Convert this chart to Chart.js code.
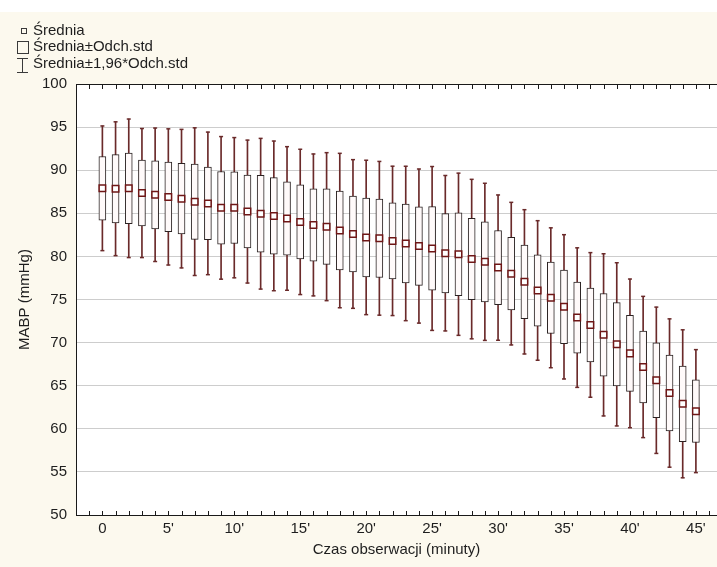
<!DOCTYPE html>
<html>
<head>
<meta charset="utf-8">
<script src="https://cdn.jsdelivr.net/npm/chart.js@4"></script>
<style>
  html, body { margin: 0; padding: 0; background: #ffffff; }
  #wrap { width: 717px; height: 567px; }
</style>
</head>
<body>
<div id="wrap"><canvas id="c" width="717" height="567"></canvas></div>
<script>
// Observation minute for each measurement
const minutes = [0, 1, 2, 3, 4, 5, 6, 7, 8, 9, 10, 11, 12, 13, 14, 15, 16, 17, 18, 19, 20, 21, 22,
                 23, 24, 25, 26, 27, 28, 29, 30, 31, 32, 33, 34, 35, 36, 37, 38, 39, 40, 41, 42, 43, 44, 45];

// Mean MABP (mmHg) per minute
const means = [87.9, 87.85, 87.9, 87.35, 87.15, 86.9, 86.7, 86.35, 86.15, 85.63, 85.65, 85.2,
               84.95, 84.7, 84.4, 84.0, 83.65, 83.45, 83.0, 82.6, 82.2, 82.1, 81.8, 81.5,
               81.2, 80.92, 80.37, 80.25, 79.69, 79.37, 78.7, 78.0, 77.05, 76.05, 75.2, 74.15,
               72.9, 72.05, 70.9, 69.8, 68.75, 67.17, 65.63, 64.15, 62.9, 62.05];

// Standard deviation per minute
const stdDevs = [3.69, 3.96, 4.1, 3.82, 3.95, 4.03, 4.1, 4.37, 4.22, 4.22, 4.15, 4.23,
                 4.46, 4.43, 4.25, 4.3, 4.2, 4.38, 4.57, 4.4, 4.57, 4.55, 4.42, 4.57,
                 4.56, 4.85, 4.6, 4.8, 4.72, 4.65, 4.3, 4.22, 4.27, 4.13, 4.14, 4.27,
                 4.13, 4.28, 4.8, 4.83, 4.4, 4.18, 4.33, 4.39, 4.38, 3.64];

// Labelled positions on the time axis
const xTickValues = [0, 5, 10, 15, 20, 25, 30, 35, 40, 45];
const xTickLabels = ['0', "5'", "10'", "15'", "20'", "25'", "30'", "35'", "40'", "45'"];

// Legend entries
const legendLabels = ['Średnia', 'Średnia±Odch.std', 'Średnia±1,96*Odch.std'];

const Z = 1.96;
const boxData = minutes.map((m, i) => ({ x: m, y: [means[i] - stdDevs[i], means[i] + stdDevs[i]] }));
const whiskerData = minutes.map((m, i) => ({ x: m, y: [means[i] - Z * stdDevs[i], means[i] + Z * stdDevs[i]] }));
const capHighData = minutes.map((m, i) => ({ x: m, y: means[i] + Z * stdDevs[i] }));
const capLowData = minutes.map((m, i) => ({ x: m, y: means[i] - Z * stdDevs[i] }));
const meanData = minutes.map((m, i) => ({ x: m, y: means[i] }));

const FONT = "'Liberation Sans', Arial, Helvetica, sans-serif";
const WHISKER = '#6a2a2a';
const BOX_EDGE = '#2a2222';
const MEAN_EDGE = '#6e1616';
const PAPER = '#fcf9ee';

Chart.defaults.font.family = FONT;
Chart.defaults.font.size = 15;
Chart.defaults.color = '#1e1e1e';

// Cream page, white plot area
const paperPlugin = {
  id: 'paper',
  beforeDraw(chart) {
    const { ctx, chartArea: a } = chart;
    ctx.save();
    ctx.fillStyle = PAPER;
    ctx.fillRect(0, 12, chart.width, chart.height - 12);
    ctx.fillStyle = '#ffffff';
    ctx.fillRect(0, 0, chart.width, 12);
    ctx.fillRect(a.left, a.top, a.right - a.left, a.bottom - a.top);
    ctx.restore();
  }
};

// Top frame line, minute tick marks and the legend
const framePlugin = {
  id: 'frame',
  afterDraw(chart) {
    const { ctx, chartArea: a } = chart;
    const xs = chart.scales.x;
    ctx.save();
    ctx.strokeStyle = '#1a1a1a';
    ctx.lineWidth = 1;
    ctx.beginPath();
    ctx.moveTo(a.left, a.top + 0.5);
    ctx.lineTo(a.right, a.top + 0.5);
    for (let m = Math.ceil(xs.min) + 1; m <= Math.floor(xs.max); m++) {
      const px = Math.round(xs.getPixelForValue(m)) + 0.5;
      ctx.moveTo(px, a.bottom);
      ctx.lineTo(px, a.bottom - 4);
      ctx.moveTo(px, a.top);
      ctx.lineTo(px, a.top + 5);
    }
    ctx.stroke();

    // legend
    ctx.strokeStyle = '#3a3a3a';
    ctx.lineWidth = 1;
    ctx.strokeRect(21.5, 28.5, 5, 5);
    ctx.strokeRect(17.5, 41.5, 11, 12);
    ctx.beginPath();
    ctx.moveTo(22.5, 58); ctx.lineTo(22.5, 73);
    ctx.moveTo(17, 58.5); ctx.lineTo(28, 58.5);
    ctx.moveTo(17, 72.5); ctx.lineTo(28, 72.5);
    ctx.stroke();
    ctx.fillStyle = '#1e1e1e';
    ctx.font = '15px ' + FONT;
    ctx.textBaseline = 'middle';
    ctx.textAlign = 'left';
    const rows = [31, 47, 64];
    legendLabels.forEach((t, i) => ctx.fillText(t, 33, rows[i]));
    ctx.restore();
  }
};

new Chart(document.getElementById('c'), {
  type: 'bar',
  data: {
    datasets: [
      {
        type: 'bar', label: 'whisker', data: whiskerData, order: 4,
        backgroundColor: WHISKER, borderWidth: 0, barThickness: 1, grouped: false
      },
      {
        type: 'scatter', label: 'capHigh', data: capHighData, order: 3,
        pointStyle: 'line', radius: 2, borderColor: WHISKER, borderWidth: 1.5
      },
      {
        type: 'scatter', label: 'capLow', data: capLowData, order: 3,
        pointStyle: 'line', radius: 2, borderColor: WHISKER, borderWidth: 1.5
      },
      {
        type: 'bar', label: 'box', data: boxData, order: 2,
        backgroundColor: '#fffafa', borderColor: BOX_EDGE, borderWidth: 1,
        borderSkipped: false, barThickness: 7, grouped: false
      },
      {
        type: 'scatter', label: 'mean', data: meanData, order: 1,
        pointStyle: 'rect', radius: 4.6, backgroundColor: '#ffffff',
        borderColor: MEAN_EDGE, borderWidth: 1.5
      }
    ]
  },
  options: {
    responsive: false,
    animation: false,
    devicePixelRatio: 1,
    layout: { autoPadding: false, padding: { top: 84, left: 0, right: 0, bottom: 0 } },
    plugins: { legend: { display: false }, tooltip: { enabled: false } },
    scales: {
      x: {
        type: 'linear',
        offset: false,
        min: -2,
        max: 46.6,
        afterFit(scale) { scale.height = 52; },
        grid: { display: true, drawOnChartArea: false, drawTicks: false },
        border: { display: true, color: '#1a1a1a', width: 1 },
        ticks: {
          stepSize: 1,
          autoSkip: false,
          includeBounds: false,
          maxRotation: 0,
          padding: 5,
          color: '#1e1e1e',
          font: { size: 15 },
          callback(v) {
            const k = xTickValues.indexOf(v);
            return k >= 0 ? xTickLabels[k] : '';
          }
        },
        title: {
          display: true, text: 'Czas obserwacji (minuty)',
          color: '#1e1e1e', font: { size: 15 }, padding: { top: 0, bottom: 8 }
        }
      },
      y: {
        min: 50,
        max: 100,
        afterFit(scale) { scale.width = 76; },
        grid: { color: '#cdcdcd', lineWidth: 1, drawTicks: false },
        border: { display: true, color: '#1a1a1a', width: 1 },
        ticks: { stepSize: 5, padding: 9, color: '#1e1e1e', font: { size: 15 } },
        title: {
          display: true, text: 'MABP (mmHg)',
          color: '#1e1e1e', font: { size: 15 }, padding: { top: 16, bottom: 0 }
        }
      }
    }
  },
  plugins: [paperPlugin, framePlugin]
});
</script>
</body>
</html>
